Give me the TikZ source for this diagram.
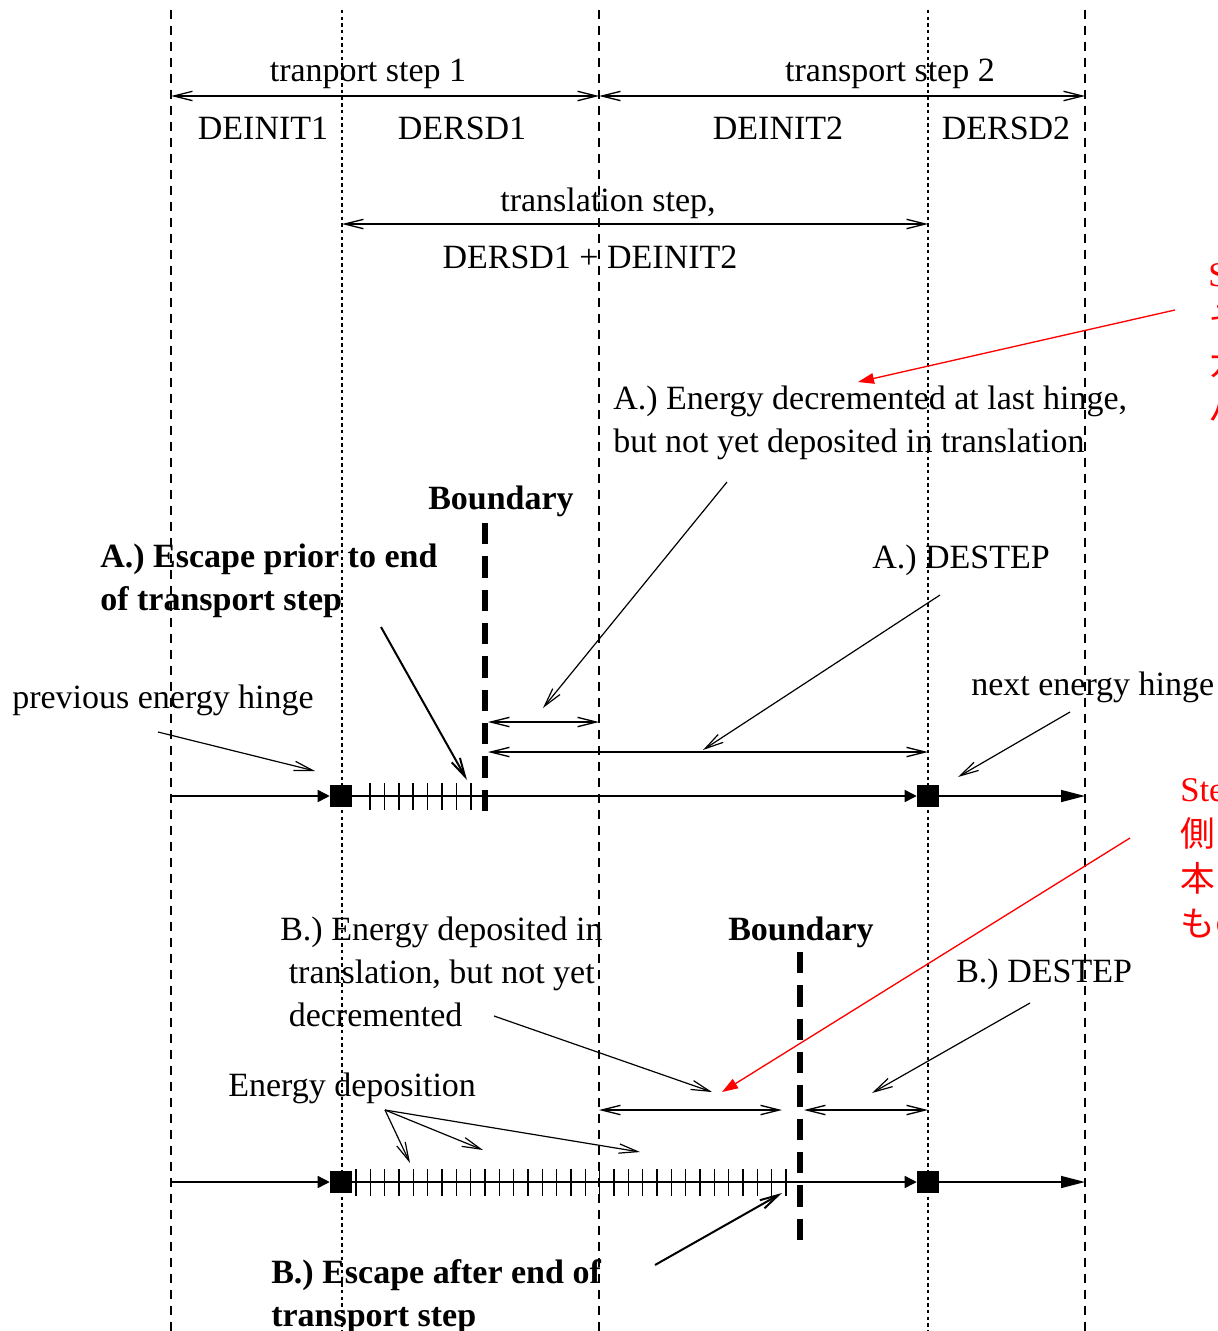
\documentclass[tikz,border=0pt]{standalone}
\usepackage{fontspec}
\setmainfont{Liberation Serif}
\newfontfamily\jpfont{Noto Sans CJK JP}
\usetikzlibrary{arrows.meta}

\tikzset{
  lbl/.style={inner sep=0pt, font=\fontsize{25.5}{32.25}\selectfont},
  blbl/.style={inner sep=0pt, font=\fontsize{25.5}{32.25}\selectfont\bfseries},
  rednote/.style={red, inner sep=0pt, align=left, font=\fontsize{26}{33.75}\selectfont},
  longdash/.style={line width=1.1pt, dash pattern=on 7pt off 5pt},
  shortdash/.style={line width=1.1pt, dash pattern=on 2.5pt off 2.5pt},
  bound/.style={line width=4.5pt, dash pattern=on 16pt off 9pt},
  span/.style={line width=1pt, {Straight Barb[length=14pt,width=7pt]}-{Straight Barb[length=14pt,width=7pt]}},
  ptr/.style={line width=0.9pt, -{Straight Barb[length=14pt,width=7pt]}},
  thickptr/.style={line width=1.5pt, -{Straight Barb[length=14pt,width=7pt]}},
  redptr/.style={red, line width=1pt, -{Triangle[length=12pt,width=8pt]}},
  axis/.style={line width=1.1pt, -{Triangle[length=9pt,width=9pt]}},
  axisend/.style={line width=1.1pt, -{Triangle[length=18pt,width=9pt]}},
  hinge/.style={fill=black, inner sep=0pt, minimum size=16.5pt},
  tk/.style={line width=1.1pt},
}

\begin{document}
\begin{tikzpicture}[x=0.75pt, y=-0.75pt]
  \useasboundingbox (0,0) rectangle (1217,1331);
  \clip (0,0) rectangle (1217,1331);

  % step borders
  \foreach \x/\sty in {171/longdash, 342/shortdash, 599/longdash, 928/shortdash, 1085/longdash}
    \draw[\sty] (\x,10) -- (\x,1331);

  % transport steps
  \coordinate (tsA) at (171,96);
  \coordinate (tsB) at (599,96);
  \coordinate (tsC) at (1085,96);
  \draw[span] (tsA) -- (tsB);
  \draw[span] (tsB) -- (tsC);
  \node[lbl, anchor=base] (ts1) at (368,82) {tranport step 1};
  \node[lbl, anchor=base] (ts2) at (890,82) {transport step 2};
  \node[lbl, anchor=base] (deinit1) at (263,139) {DEINIT1};
  \node[lbl, anchor=base] (dersd1) at (462,139) {DERSD1};
  \node[lbl, anchor=base] (deinit2) at (778,139) {DEINIT2};
  \node[lbl, anchor=base] (dersd2) at (1006,139) {DERSD2};

  % translation step
  \coordinate (trA) at (342,224);
  \coordinate (trB) at (928,224);
  \draw[span] (trA) -- (trB);
  \node[lbl, anchor=base] (trans) at (608,211) {translation step,};
  \node[lbl, anchor=base] (transsum) at (590,268) {DERSD1 + DEINIT2};

  % case A
  \node[lbl, align=left, anchor=north west] (decA) at (613,386)
    {A.) Energy decremented at last hinge,\\but not yet deposited in translation};
  \node[blbl, anchor=base] (bdlblA) at (501,509) {Boundary};
  \node[blbl, align=left, anchor=north west] (escA) at (100,544)
    {A.) Escape prior to end\\of transport step};
  \node[lbl, anchor=base west] (destepA) at (872,568) {A.) DESTEP};
  \node[lbl, anchor=base west] (prevh) at (12,708) {previous energy hinge};
  \node[lbl, anchor=base west] (nexth) at (971,695) {next energy hinge};

  \coordinate (bdA1) at (485,523);
  \coordinate (bdA2) at (485,822);
  \draw[bound] (bdA1) -- (bdA2);

  \coordinate (spA1) at (488,722);
  \coordinate (spA2) at (599,722);
  \coordinate (spA3) at (488,752);
  \coordinate (spA4) at (928,752);
  \draw[span] (spA1) -- (spA2);
  \draw[span] (spA3) -- (spA4);

  \foreach \i in {0,...,7}
    \draw[tk] ({370+14.4*\i},783) -- ++(0,27);
  \node[hinge] (hA1) at (341,796) {};
  \node[hinge] (hA2) at (928,796) {};
  \coordinate (axA0) at (171,796);
  \coordinate (axA3) at (1085,796);
  \draw[axis] (axA0) -- (hA1.west);
  \draw[axis] (hA1.east) -- (hA2.west);
  \draw[axisend] (hA2.east) -- (axA3);

  \coordinate (decAt) at (727,482);
  \coordinate (decAh) at (543,708);
  \coordinate (destAt) at (940,595);
  \coordinate (destAh) at (703,750);
  \coordinate (escAt) at (381,627);
  \coordinate (escAh) at (467,780);
  \coordinate (prevt) at (158,732);
  \coordinate (prevh2) at (315,771);
  \coordinate (nextt) at (1070,712);
  \coordinate (nexth2) at (958,777);
  \draw[ptr] (decAt) -- (decAh);
  \draw[ptr] (destAt) -- (destAh);
  \draw[thickptr] (escAt) -- (escAh);
  \draw[ptr] (prevt) -- (prevh2);
  \draw[ptr] (nextt) -- (nexth2);

  % case B
  \node[lbl, align=left, anchor=north west] (depB) at (280,917)
    {B.) Energy deposited in\\\ translation, but not yet\\\ decremented};
  \node[blbl, anchor=base] (bdlblB) at (801,940) {Boundary};
  \node[lbl, anchor=base west] (destepB) at (956,982) {B.) DESTEP};
  \node[lbl, anchor=base west] (edep) at (228,1096) {Energy deposition};
  \node[blbl, align=left, anchor=north west] (escB) at (271,1259)
    {B.) Escape after end of\\transport step};

  \coordinate (bdB1) at (800,952);
  \coordinate (bdB2) at (800,1240);
  \draw[bound] (bdB1) -- (bdB2);

  \coordinate (spB1) at (599,1110);
  \coordinate (spB2) at (782,1110);
  \coordinate (spB3) at (804,1110);
  \coordinate (spB4) at (928,1110);
  \draw[span] (spB1) -- (spB2);
  \draw[span] (spB3) -- (spB4);

  \foreach \i in {0,...,30}
    \draw[tk] ({356+14.33*\i},1169) -- ++(0,27);
  \node[hinge] (hB1) at (341,1182) {};
  \node[hinge] (hB2) at (928,1182) {};
  \coordinate (axB0) at (171,1182);
  \coordinate (axB3) at (1085,1182);
  \draw[axis] (axB0) -- (hB1.west);
  \draw[axis] (hB1.east) -- (hB2.west);
  \draw[axisend] (hB2.east) -- (axB3);

  \coordinate (depBt) at (494,1016);
  \coordinate (depBh) at (712,1092);
  \coordinate (destBt) at (1030,1003);
  \coordinate (destBh) at (872,1093);
  \coordinate (edept) at (385,1110);
  \coordinate (edep1) at (410,1163);
  \coordinate (edep2) at (483,1150);
  \coordinate (edep3) at (640,1152);
  \coordinate (escBt) at (655,1265);
  \coordinate (escBh) at (782,1193);
  \draw[ptr] (depBt) -- (depBh);
  \draw[ptr] (destBt) -- (destBh);
  \draw[ptr] (edept) -- (edep1);
  \draw[ptr] (edept) -- (edep2);
  \draw[ptr] (edept) -- (edep3);
  \draw[thickptr] (escBt) -- (escBh);

  % red remarks
  \node[rednote, anchor=north west] (remA) at (1208,263)
    {Step\\\jpfont そ\\\jpfont ガ\\\jpfont ハ};
  \node[rednote, anchor=north west] (remB) at (1180,778)
    {Step\\\jpfont 側\\\jpfont 本\\\jpfont もの};
  \coordinate (remAt) at (1175,310);
  \coordinate (remAh) at (858,382);
  \coordinate (remBt) at (1130,838);
  \coordinate (remBh) at (722,1092);
  \draw[redptr] (remAt) -- (remAh);
  \draw[redptr] (remBt) -- (remBh);
\end{tikzpicture}
\end{document}
